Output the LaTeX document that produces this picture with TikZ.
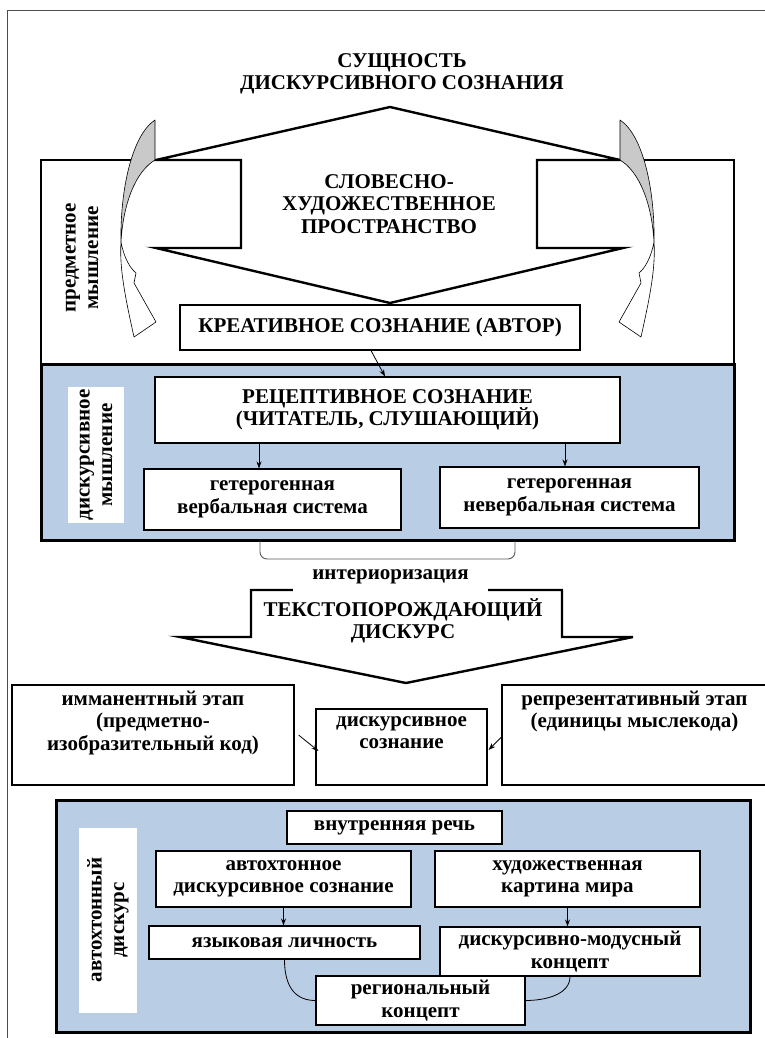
\documentclass[tikz,border=0pt]{standalone}
\usepackage{fontspec}
\setmainfont{Liberation Serif}
\usetikzlibrary{arrows.meta,calc}
\definecolor{PaleBlue}{HTML}{B9CDE5}
\definecolor{RibbonGray}{HTML}{C9C9C9}

\begin{document}
\begin{tikzpicture}[x=1pt,y=-1pt,font=\fontsize{21}{22.5}\selectfont\bfseries,
    box/.style={draw,line width=1.1pt,fill=white,align=center,inner sep=0pt},
    vlabel/.style={fill=white,rotate=90,align=center,inner sep=0pt},
    arr/.style={-{Stealth[length=7pt,width=5pt]},line width=0.8pt},
    bigshape/.style={draw,fill=white,line width=2.4pt},
    ribbon/.style={draw,line width=0.6pt,line join=round}]
  \useasboundingbox (0,0) rectangle (765,1038);
  % outer frame
  \draw[line width=1pt,black!70] (7,1038) -- (7,11) -- (765,11);
  % upper part: predmetnoe myshlenie
  \draw[line width=2.4pt,fill=white] (41,160) rectangle (734,364);
  \draw[bigshape] (156,160) -- (390,107) -- (620,160) -- (537,160) -- (537,248)
    -- (623,248) -- (390,303) -- (156,248) -- (241,248) -- (241,160) -- cycle;
  % twisted curved arrows
  \filldraw[ribbon,fill=RibbonGray] (155,120) -- (155,160)
    .. controls (135,172) and (123,205) .. (121,242)
    .. controls (120,190) and (132,135) .. (155,120) -- cycle;
  \filldraw[ribbon,fill=white] (121,242) .. controls (124,258) and (130,268) .. (136,273)
    -- (134,283) -- (156,322) -- (134,337)
    .. controls (127,305) and (119,270) .. (121,242) -- cycle;
  \begin{scope}[xshift=775pt,xscale=-1]
    \filldraw[ribbon,fill=RibbonGray] (155,120) -- (155,160)
      .. controls (135,172) and (123,205) .. (121,242)
      .. controls (120,190) and (132,135) .. (155,120) -- cycle;
    \filldraw[ribbon,fill=white] (121,242) .. controls (124,258) and (130,268) .. (136,273)
      -- (134,283) -- (156,322) -- (134,337)
      .. controls (127,305) and (119,270) .. (121,242) -- cycle;
  \end{scope}
  \node[align=center] (title) at (402,74) {СУЩНОСТЬ\\ДИСКУРСИВНОГО СОЗНАНИЯ};
  \node[align=center] (space) at (389,204) {СЛОВЕСНО-\\ХУДОЖЕСТВЕННОЕ\\ПРОСТРАНСТВО};
  \node[vlabel,fill=none] (predlab) at (82,258) {предметное\\мышление};
  \node[box,minimum width=400,minimum height=45] (creat) at (380,327.5) {КРЕАТИВНОЕ СОЗНАНИЕ (АВТОР)};

  % blue part: diskursivnoe myshlenie
  \draw[line width=3pt,fill=PaleBlue] (41,364) rectangle (734,540);
  \draw[line width=0.9pt,black!65,rounded corners=7pt] (260,541) -- (260,559) -- (515,559) -- (515,541);
  \node[vlabel,minimum width=136,minimum height=56] (disclab) at (96,455) {дискурсивное\\мышление};
  \node[box,minimum width=465,minimum height=66] (recep) at (387.5,410) {РЕЦЕПТИВНОЕ СОЗНАНИЕ\\(ЧИТАТЕЛЬ, СЛУШАЮЩИЙ)};
  \node[box,minimum width=257,minimum height=61] (verbal) at (272.5,499.5) {гетерогенная\\вербальная система};
  \node[box,minimum width=259,minimum height=61] (nonverb) at (569.5,497.5) {гетерогенная\\невербальная система};
  \draw[arr] ($(creat.south)+(-9,0)$) -- ($(recep.north)+(-2.5,0)$);
  \draw[arr] ($(recep.south)+(-128.5,0)$) -- ($(verbal.north)+(-13.5,0)$);
  \draw[arr] ($(recep.south)+(177.5,0)$) -- ($(nonverb.north)+(-4.5,0)$);

  % text-generating discourse
  \draw[bigshape] (251,590) -- (562,590) -- (562,637) -- (633,637) -- (406,683)
    -- (180,637) -- (251,637) -- cycle;
  \node[fill=white,minimum width=195,minimum height=30,inner sep=0pt] (inter) at (390.5,577) {интериоризация};
  \node[align=center] (textgen) at (403,621) {ТЕКСТОПОРОЖДАЮЩИЙ\\ДИСКУРС};

  \node[box,minimum width=282,minimum height=100] (imm) at (153,735) {имманентный этап\\(предметно-\\изобразительный код)\\\strut};
  \node[box,minimum width=171,minimum height=76] (disc) at (401.5,747) {дискурсивное\\сознание\\\strut};
  \node[box,minimum width=265,minimum height=100] (repr) at (634.5,735) {репрезентативный этап\\(единицы мыслекода)\\\strut\\\strut};
  \draw[arr] ($(imm.east)+(4,0)$) -- ($(disc.west)+(3,4)$);
  \draw[arr] ($(repr.west)+(0,2)$) -- ($(disc.east)+(1,3)$);

  % autochthonous discourse
  \draw[line width=3pt,fill=PaleBlue] (56,800) rectangle (750,1032);
  \node[vlabel,minimum width=185,minimum height=58] (autlab) at (108,920) {автохтонный\\дискурс};
  \node[box,minimum width=215,minimum height=33] (inner) at (394.5,827.5) {внутренняя речь};
  \node[box,minimum width=255,minimum height=56] (autoch) at (283.5,879) {автохтонное\\дискурсивное сознание};
  \node[box,minimum width=265,minimum height=56] (art) at (567.5,879) {художественная\\картина мира};
  \node[box,minimum width=271,minimum height=33] (lang) at (284.5,942.5) {языковая личность};
  \node[box,minimum width=260,minimum height=49] (dmod) at (570,951.5) {дискурсивно-модусный\\концепт};
  \draw[arr] (autoch.south) -- (autoch.south |- lang.north);
  \draw[arr] (art.south) -- (art.south |- dmod.north);
  \node[box,minimum width=209,minimum height=49] (region) at (420.5,1000.5) {региональный\\концепт};
  \draw[line width=0.8pt] (lang.south) .. controls +(0,30) and +(-18,0) .. (region.west);
  \draw[line width=0.8pt] (dmod.south) .. controls +(0,18) and +(20,0) .. (region.east);
\end{tikzpicture}
\end{document}
